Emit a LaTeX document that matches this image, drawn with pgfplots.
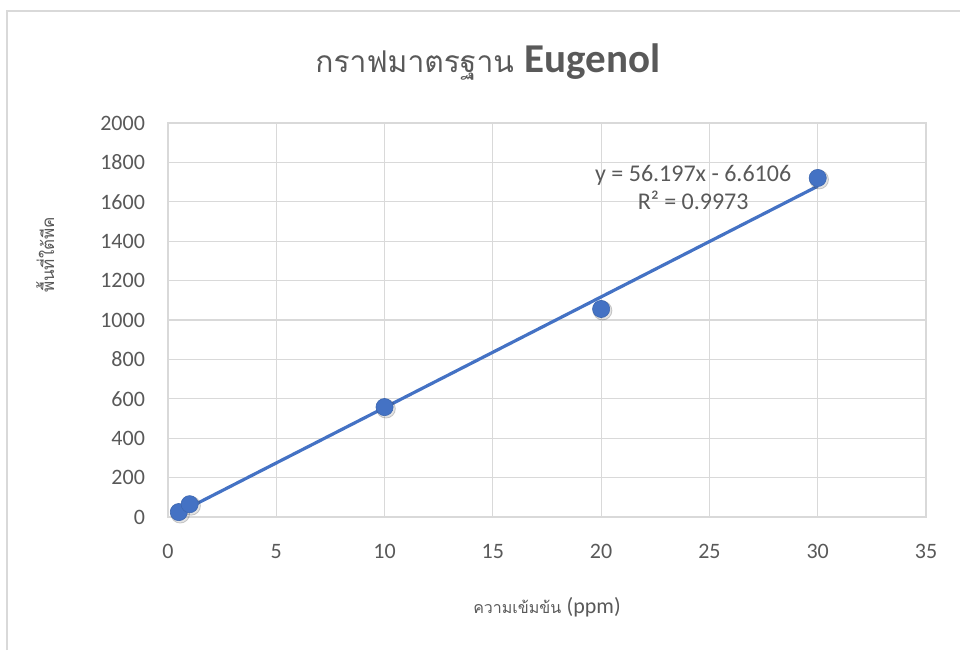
\documentclass[border=0pt]{standalone}
\usepackage{pgfplots}
\pgfplotsset{compat=1.18}
\usepackage{fontspec}
\setmainfont{Carlito}
\newfontfamily\thai[Script=Thai]{Loma}
\definecolor{txtgray}{HTML}{595959}
\definecolor{gridgray}{HTML}{D9D9D9}
\definecolor{frame}{HTML}{D9D9D9}
\definecolor{series}{HTML}{4472C4}

% calibration standards: concentration (ppm) vs. peak area
\pgfplotstableread{
x y
0.5 25
1 65
10 558
20 1056
30 1721
}\standards

\begin{document}
\begin{tikzpicture}
\useasboundingbox (0pt,0pt) rectangle (480pt,325pt);
\draw[frame, line width=1.2pt] (3.5pt,0pt) -- (3.5pt,319.5pt) -- (480pt,319.5pt);
\node[txtgray, anchor=center] at (244pt,294pt)
  {{\thai\fontsize{15}{18}\selectfont กราฟมาตรฐาน}\hspace{5.5pt}{\fontsize{20.5}{24}\selectfont\bfseries Eugenol}};
\begin{axis}[
  at={(84pt,66.5pt)}, anchor=south west,
  scale only axis, width=379pt, height=197pt,
  xmin=0, xmax=35, ymin=0, ymax=2000,
  xtick={0,5,...,35}, ytick={0,200,...,2000},
  grid=major, major grid style={gridgray, line width=0.6pt},
  axis line style={gridgray, line width=0.6pt},
  major tick length=0pt,
  tick label style={txtgray, font=\fontsize{11}{13}\selectfont},
  /pgf/number format/assume math mode=true,
  /pgf/number format/1000 sep={},
  xticklabel style={yshift=-10pt},
  yticklabel style={xshift=-8pt},
  xlabel={\thai\fontsize{8}{10}\selectfont ความเข้มข้น \fontsize{11}{13}\selectfont\rmfamily (ppm)},
  xlabel style={txtgray, at={(axis description cs:0.5,-0.228)}, anchor=center},
  ylabel={\thai\fontsize{8.5}{10}\selectfont พื้นที่ใต้พีค},
  ylabel style={txtgray, at={(axis description cs:-0.162,0.665)}, anchor=center},
  clip=false,
]
% linear trendline y = 56.197x - 6.6106 over the measured range
\addplot[series, line width=1.6pt] coordinates {(0.5,21.4879) (30,1679.3)};
% soft shadow under each marker
\addplot[only marks, mark=*, mark size=4.7pt, draw=none, fill=black!60, opacity=0.18,
  mark options={draw=none, fill=black!60, opacity=0.18, xshift=0.7pt, yshift=-0.8pt}]
  table[x=x,y=y] {\standards};
\addplot[only marks, mark=*, mark size=4.3pt, mark options={draw=series!90!black, fill=series, line width=0.3pt}]
  table[x=x,y=y] {\standards};
\node[txtgray, align=center, font=\fontsize{12}{14}\selectfont] at (axis cs:24.25,1675)
  {y = 56.197x - 6.6106\\R² = 0.9973};
\end{axis}
\end{tikzpicture}
\end{document}
